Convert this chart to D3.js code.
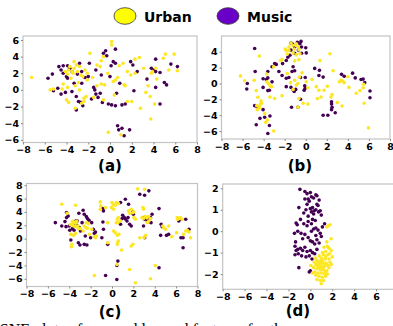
<!DOCTYPE html>
<html>
<head>
<meta charset="utf-8">
<script src="https://cdn.jsdelivr.net/npm/d3@7"></script>
<style>
  body { margin: 0; background: #fff; overflow: hidden; }
  svg { display: block; }
  .tick text { font-family: "DejaVu Sans", sans-serif; font-weight: bold; font-size: 9.5px; fill: #000; }
</style>
</head>
<body>
<svg id="chart" width="393" height="326"></svg>
<script>
// legend
const classes = ["Urban", "Music"];
const legendColors = ["#ffff00", "#6a00c8"];
const pointColors = { Urban: "#fde725", Music: "#440154" };

// (a)
const aUrban = [[-7.2,1.5],[-5.5,0.0],[-5.2,0.1],[-4.3,0.7],[-4.4,0.1],[-3.9,0.3],[-4.0,-1.2],[-3.8,-1.5],[-3.3,3.4],[-4.1,2.2],[-3.8,2.4],[-3.7,2.8],[-3.5,2.2],[-3.4,2.0],[-3.3,2.6],[-3.1,3.0],[-3.0,2.2],[-2.8,2.8],[-2.7,1.8],[-2.5,1.6],[-2.3,2.4],[-2.1,2.0],[-2.1,1.2],[-3.6,1.4],[-3.9,1.9],[-2.9,0.9],[-3.2,0.5],[-2.4,-1.0],[-2.6,-1.6],[-2.4,-1.4],[-2.2,-0.8],[-3.2,-2.2],[-2.8,0.0],[-1.85,4.4],[-1.2,3.0],[-0.9,2.8],[-0.8,3.5],[-0.6,4.0],[0.15,5.8],[0.15,5.4],[0.3,1.0],[0.5,1.2],[0.7,1.5],[0.85,2.9],[1.6,2.2],[1.9,1.8],[1.3,0.6],[1.4,0.5],[2.0,-1.4],[1.6,-1.4],[2.3,3.7],[2.7,3.9],[3.1,2.6],[3.3,-0.3],[3.5,0.5],[2.8,-2.2],[3.75,-3.5],[3.9,2.2],[3.8,2.0],[4.3,1.3],[4.1,-1.7],[4.9,3.8],[5.1,4.3],[5.4,2.4],[5.9,4.3],[6.2,2.3],[-0.15,-5.1],[1.0,-5.4],[-0.6,-1.2],[-1.2,0.5],[-0.5,0.6],[-0.8,0.7],[-1.6,1.5],[-0.2,2.0],[2.3,2.0],[-1.5,-0.9],[0.4,-0.6],[3.7,-0.8],[4.2,2.6],[1.2,3.2]];
const aMusic = [[-5.7,1.4],[-5.3,1.9],[-5.2,-0.1],[-4.8,0.2],[-4.7,2.8],[-4.5,2.4],[-4.3,2.9],[-4.0,1.6],[-3.9,1.4],[-4.5,-0.5],[-3.9,2.9],[-3.7,2.6],[-3.5,2.2],[-3.1,-0.8],[-2.9,-1.4],[-2.7,-1.5],[-3.1,-2.4],[-2.5,-1.9],[-2.8,3.2],[-2.0,1.6],[-1.9,3.2],[-1.5,0.3],[-1.4,0.0],[-1.7,-1.1],[-0.9,-0.4],[-0.4,4.7],[-0.6,4.4],[-0.3,4.1],[0.5,4.9],[0.3,3.4],[0.5,3.2],[-0.15,-1.7],[0.15,-1.8],[0.5,-1.9],[0.0,1.6],[-0.8,1.8],[0.9,0.8],[0.6,-0.4],[1.1,-1.8],[1.4,-1.7],[0.8,-4.8],[1.1,-4.6],[0.7,-4.3],[1.3,-5.5],[1.8,-4.8],[1.9,3.4],[2.1,3.0],[2.2,-0.1],[2.5,2.2],[3.8,2.6],[4.0,2.4],[4.2,2.2],[4.2,3.7],[4.6,2.1],[5.0,0.9],[5.2,0.6],[4.2,0.3],[4.6,-1.7],[5.6,3.1],[6.2,2.8],[3.4,1.3],[-3.3,0.8],[-2.6,0.8],[-3.5,-0.2],[-2.3,1.5],[-1.3,-0.5],[-3.0,1.9],[-2.6,2.2],[-1.1,-0.9],[-0.7,-1.5],[-1.3,2.4],[0.1,2.9],[-4.1,-0.3],[-4.3,2.0]];

// (b)
const bUrban = [[-6.2,0.95],[-5.8,0.35],[-4.9,0.4],[-4.4,3.45],[-4.7,-0.9],[-4.55,-1.75],[-4.65,-2.8],[-4.45,-2.9],[-4.3,-2.6],[-4.2,-2.5],[-4.4,-3.1],[-4.6,-3.3],[-4.25,-2.2],[-3.9,-3.8],[-3.8,-4.9],[-3.65,-4.6],[-3.05,-6.0],[-3.4,-0.3],[-3.25,-0.4],[-3.4,-1.7],[-2.95,-1.9],[-2.25,-1.55],[-3.7,0.2],[-3.55,0.0],[-3.7,1.2],[-3.05,2.1],[-2.4,2.9],[-2.25,3.0],[-1.95,4.35],[-1.85,4.15],[-1.6,4.6],[-1.4,5.1],[-1.25,4.8],[-1.1,4.35],[-0.95,4.8],[-0.9,5.0],[-0.7,4.6],[-0.65,4.25],[-0.55,3.75],[-0.9,3.6],[-1.2,3.85],[-1.6,4.15],[-1.75,3.7],[-1.05,2.85],[-0.65,3.0],[-1.75,1.25],[-1.45,0.1],[-1.2,-0.75],[-1.05,0.4],[-0.9,-0.2],[-0.75,0.0],[-0.6,0.8],[-0.35,1.35],[0.05,0.2],[0.2,-0.55],[-0.25,-2.5],[-0.65,-1.9],[-0.75,-3.0],[0.2,-2.6],[0.6,0.5],[1.35,2.9],[1.0,-0.4],[1.25,-0.85],[1.75,-0.85],[1.1,-1.9],[1.45,-1.7],[2.3,3.75],[2.4,-1.7],[2.5,-1.4],[2.6,1.6],[2.05,-0.35],[3.0,-2.4],[3.45,-2.85],[3.2,0.2],[3.35,0.4],[3.5,0.3],[3.65,0.1],[4.0,0.85],[4.1,-0.5],[4.8,-1.25],[5.15,-0.9],[5.45,-0.55],[5.5,-0.1],[5.55,-2.5],[5.95,-5.6]];
const bMusic = [[-4.85,4.4],[-4.8,1.5],[-5.55,0.0],[-5.6,-0.7],[-4.05,0.6],[-3.75,0.5],[-3.6,0.7],[-3.6,1.5],[-3.2,0.2],[-4.05,-0.5],[-3.6,-0.9],[-3.45,-0.85],[-2.95,2.5],[-2.8,2.4],[-3.2,2.1],[-2.55,1.5],[-2.25,1.0],[-4.85,-2.8],[-4.6,-3.0],[-4.05,-3.3],[-4.35,-4.4],[-3.9,-4.25],[-3.4,-4.1],[-4.7,-5.2],[-3.45,-5.3],[-3.6,-6.3],[-2.2,2.5],[-1.85,2.9],[-1.7,3.3],[-1.4,5.1],[-1.25,4.95],[-1.05,4.6],[-0.8,5.2],[-0.55,5.0],[-0.45,5.3],[-0.4,4.6],[-0.7,4.2],[-1.4,4.2],[-1.05,3.8],[-1.5,3.55],[-0.4,3.8],[0.0,4.5],[0.05,3.85],[-1.2,2.1],[-1.3,1.5],[-1.05,1.6],[-1.85,0.65],[-1.6,0.75],[-1.4,-0.5],[-1.2,-0.8],[-1.1,-1.0],[-1.85,-0.4],[-0.95,-0.75],[-1.35,-3.0],[-0.75,-3.0],[-0.5,-2.0],[-0.1,-0.3],[-0.05,-0.6],[-0.15,-0.85],[-0.5,0.75],[-0.05,0.75],[0.85,1.9],[1.3,1.65],[1.25,1.0],[1.65,0.8],[1.65,-4.0],[2.1,-4.0],[2.45,-2.3],[2.45,-2.6],[2.5,-3.0],[2.45,-3.3],[2.8,-3.7],[3.4,1.15],[3.65,0.9],[4.45,1.3],[4.7,0.7],[5.25,0.5],[5.45,0.55],[5.6,0.1],[6.1,-0.95],[6.1,-1.8]];

// (c)
const cUrban = [[-4.7,5.15],[-3.4,5.0],[-4.2,3.8],[-3.7,2.6],[-3.5,2.5],[-3.4,2.3],[-3.7,2.2],[-3.3,2.6],[-3.6,1.9],[-3.4,1.8],[-3.9,2.1],[-3.2,1.9],[-3.15,1.5],[-3.85,0.65],[-3.6,0.5],[-3.4,0.8],[-3.8,-1.2],[-3.75,-0.85],[-2.95,1.5],[-2.7,1.15],[-2.6,1.9],[-2.45,1.65],[-2.3,1.55],[-2.4,2.4],[-2.2,2.25],[-2.1,0.65],[-1.9,1.4],[-1.65,0.3],[-1.45,0.4],[-1.55,0.15],[-1.65,-5.5],[-1.1,5.5],[-1.05,4.9],[-1.1,4.4],[-0.6,4.65],[-0.4,2.4],[0.0,5.4],[0.1,5.1],[0.3,5.0],[0.4,5.4],[-0.05,4.65],[0.15,4.4],[0.6,5.25],[0.5,2.9],[0.6,3.15],[0.8,2.65],[0.4,2.4],[0.55,2.4],[0.15,1.15],[0.3,0.9],[0.5,0.5],[0.65,0.65],[0.6,-0.35],[0.55,-0.5],[0.5,-0.85],[0.45,-3.85],[0.9,-1.7],[-0.4,-0.6],[1.65,-4.6],[2.2,-6.6],[1.8,-1.1],[1.95,-0.85],[1.55,4.15],[1.8,4.4],[2.05,4.0],[1.95,3.9],[1.65,3.8],[2.05,3.15],[2.2,2.9],[2.4,7.45],[3.05,7.4],[2.9,4.65],[2.95,4.4],[2.8,3.15],[2.95,3.0],[3.1,3.3],[3.25,3.15],[3.4,3.3],[3.6,3.0],[3.45,2.65],[3.3,2.4],[2.6,0.15],[4.05,-4.0],[3.6,-6.0],[4.75,1.9],[4.85,1.65],[5.3,1.9],[5.0,1.4],[5.6,0.3],[6.1,3.15],[6.25,3.0],[6.4,3.15],[6.15,2.9],[6.55,2.9],[6.7,0.65],[6.9,1.15],[7.05,1.25],[7.2,1.0],[7.35,0.15],[6.05,0.9],[3.0,0.15],[3.15,0.5]];
const cMusic = [[-5.3,2.4],[-4.7,1.9],[-4.4,2.55],[-4.25,3.9],[-4.25,3.15],[-4.1,3.4],[-4.3,1.8],[-4.0,1.9],[-3.95,1.25],[-3.85,-0.2],[-3.7,1.5],[-3.55,1.25],[-3.4,2.65],[-3.3,2.0],[-3.6,2.0],[-3.5,2.0],[-3.25,2.65],[-3.1,3.8],[-3.05,1.65],[-2.95,1.15],[-2.8,2.4],[-2.7,4.25],[-2.6,3.65],[-2.4,3.3],[-2.3,3.0],[-2.15,2.75],[-2.5,0.4],[-2.6,-0.85],[-3.0,-0.95],[-3.15,-0.6],[-2.35,-0.95],[-2.0,0.15],[-1.65,0.8],[-1.55,1.0],[-1.9,2.4],[-1.75,1.4],[-0.85,4.5],[-0.8,4.15],[-0.85,2.5],[-0.8,1.4],[-0.95,0.15],[-0.4,-0.85],[1.25,5.9],[0.8,5.4],[1.0,3.5],[0.95,3.0],[1.15,3.15],[0.55,-3.35],[0.45,-4.0],[-0.6,-5.5],[0.45,-6.1],[1.55,5.15],[1.95,4.0],[2.0,3.65],[1.65,2.15],[1.8,1.9],[1.25,2.95],[1.4,2.65],[1.5,3.15],[2.6,6.65],[3.05,6.5],[3.45,7.15],[2.9,3.15],[3.05,2.9],[3.3,2.65],[3.5,3.0],[3.65,2.4],[2.95,1.9],[3.05,0.15],[3.75,3.65],[3.6,3.15],[4.4,4.5],[4.6,2.15],[4.7,1.8],[4.4,-4.35],[4.55,0.5],[5.1,0.5],[6.45,0.15],[6.65,0.15],[6.65,-1.35],[6.9,2.9],[7.2,1.4],[6.4,2.9],[6.25,2.65],[5.3,0.65],[0.8,2.15]];

// (d)
const dUrban = [[1.5,0.2],[1.65,0.25],[1.8,0.3],[1.9,-0.35],[1.55,-0.7],[1.7,-0.8],[1.4,-0.95],[1.9,-0.9],[1.6,-1.1],[1.2,-1.1],[0.8,-1.15],[1.0,-1.25],[1.35,-1.3],[1.7,-1.3],[2.0,-1.2],[0.6,-1.35],[0.9,-1.4],[1.15,-1.45],[1.45,-1.5],[1.8,-1.45],[0.5,-1.55],[0.75,-1.6],[1.0,-1.65],[1.3,-1.65],[1.6,-1.6],[1.9,-1.55],[0.05,-1.6],[0.3,-1.7],[0.6,-1.75],[0.9,-1.8],[1.2,-1.8],[1.5,-1.85],[0.4,-1.9],[0.7,-1.95],[1.0,-1.95],[1.3,-2.0],[0.2,-1.95],[0.5,-2.05],[0.8,-2.1],[1.1,-2.15],[1.4,-2.1],[0.9,-2.3],[1.0,-2.45],[1.2,-2.3],[0.6,-2.25],[1.1,-1.0],[1.25,-0.75],[1.5,-0.5],[0.95,-1.5],[1.1,-1.7],[0.7,-1.45],[1.4,-1.2],[1.75,-1.05],[0.45,-1.25],[1.55,-2.0],[0.85,-1.7],[1.25,-1.55],[1.05,-1.35],[0.65,-1.6],[1.35,-1.9],[1.7,-1.7],[0.35,-1.45]];
const dMusic = [[-0.95,1.95],[-0.5,1.85],[-0.3,1.75],[0.0,1.8],[0.1,1.6],[-0.2,1.5],[-0.1,1.4],[0.3,1.55],[0.5,1.7],[0.6,1.65],[0.8,1.45],[-0.5,1.5],[-1.05,1.1],[-0.3,1.25],[0.0,1.05],[0.2,1.1],[0.35,0.95],[0.5,1.0],[0.6,1.25],[0.75,0.9],[0.9,0.95],[1.0,0.75],[0.3,0.8],[0.1,0.9],[-0.6,0.85],[-0.2,0.7],[0.45,0.5],[0.2,0.55],[-1.3,0.38],[-1.2,0.3],[-1.15,0.0],[-0.85,-0.1],[-0.6,0.35],[-0.3,0.25],[0.1,0.35],[0.3,0.1],[0.5,0.15],[0.7,0.05],[0.9,-0.1],[1.1,0.2],[1.3,0.35],[-0.5,-0.15],[-0.2,-0.3],[0.0,-0.45],[0.2,-0.5],[0.4,-0.6],[0.6,-0.4],[0.8,-0.55],[1.0,-0.25],[-1.35,-0.5],[-1.4,-0.7],[-1.3,-0.9],[-1.15,-0.85],[-0.9,-0.8],[-0.7,-0.9],[-0.5,-0.75],[-0.3,-0.95],[0.0,-0.9],[0.2,-1.0],[0.4,-1.05],[0.6,-0.85],[-1.4,-1.1],[-1.1,-1.05],[-0.8,-1.15],[-0.4,-1.2],[-0.1,-1.15],[0.15,-1.3],[-1.05,-1.7],[-0.1,-1.9],[0.0,-1.85],[0.1,0.0],[-0.9,0.55],[-0.7,-0.35],[0.5,-0.2],[-1.45,-0.1],[-0.4,1.0],[0.7,1.2],[-0.2,0.45]];

const xTicks = [-8, -6, -4, -2, 0, 2, 4, 6, 8];
const xTicksD = [-8, -6, -4, -2, 0, 2, 4, 6];   // the "8" of (d) falls off the page

const svg = d3.select("#chart");
const fmt = d => d < 0 ? "\u2212" + Math.abs(d) : String(d);

// panel boxes in page pixels
const panels = [
  { label: "(a)", box: [23, 197, 36, 142.5], ylim: [-6.32, 6.48], xTicks: xTicks, yTicks: [-6, -4, -2, 0, 2, 4, 6], urban: aUrban, music: aMusic, title: [110, 171] },
  { label: "(b)", box: [221.5, 390, 36, 139], ylim: [-7.0, 5.98], xTicks: xTicks, yTicks: [-6, -4, -2, 0, 2, 4], urban: bUrban, music: bMusic, title: [300, 171] },
  { label: "(c)", box: [26.5, 197.5, 183.5, 286.5], ylim: [-7.15, 8.25], xTicks: xTicks, yTicks: [-6, -4, -2, 0, 2, 4, 6, 8], urban: cUrban, music: cMusic, title: [110, 317] },
  { label: "(d)", box: [222.7, 398, 184, 289.3], ylim: [-2.71, 2.2], xTicks: xTicksD, yTicks: [-2, -1, 0, 1, 2], urban: dUrban, music: dMusic, title: [298, 316] }
];

panels.forEach(p => {
  const [x0, x1, y0, y1] = p.box;
  const x = d3.scaleLinear().domain([-8, 8]).range([x0, x1]);
  const y = d3.scaleLinear().domain(p.ylim).range([y1, y0]);
  const g = svg.append("g");

  // points
  const pts = g.append("g");
  [["Music", p.music], ["Urban", p.urban]].forEach(([name, data]) => {
    pts.selectAll(null)
      .data(data)
      .enter()
      .append("circle")
      .attr("cx", d => x(d[0]))
      .attr("cy", d => y(d[1]))
      .attr("r", 1.8)
      .attr("fill", pointColors[name]);
  });

  // frame
  g.append("rect")
    .attr("x", x0).attr("y", y0)
    .attr("width", x1 - x0).attr("height", y1 - y0)
    .attr("fill", "none")
    .attr("stroke", "#c4c4c4")
    .attr("stroke-width", 1.2);

  const xAxis = g.append("g")
    .attr("transform", "translate(0," + y1 + ")")
    .call(d3.axisBottom(x).tickValues(p.xTicks).tickFormat(fmt).tickSize(2).tickPadding(2));
  const yAxis = g.append("g")
    .attr("transform", "translate(" + x0 + ",0)")
    .call(d3.axisLeft(y).tickValues(p.yTicks).tickFormat(fmt).tickSize(2).tickPadding(2));
  [xAxis, yAxis].forEach(a => {
    a.select(".domain").remove();
    a.selectAll(".tick line").attr("stroke", "#888");
  });

  g.append("text")
    .attr("x", p.title[0]).attr("y", p.title[1])
    .attr("text-anchor", "middle")
    .style("font-family", "DejaVu Sans, sans-serif")
    .style("font-weight", "bold")
    .style("font-size", "15px")
    .text(p.label);
});

// legend
const legendX = [125, 228];
classes.forEach((c, i) => {
  svg.append("ellipse")
    .attr("cx", legendX[i]).attr("cy", 16)
    .attr("rx", 11).attr("ry", 8.3)
    .attr("fill", legendColors[i])
    .attr("stroke", "#333")
    .attr("stroke-width", 0.8);
  svg.append("text")
    .attr("x", legendX[i] + 19).attr("y", 21.5)
    .style("font-family", "DejaVu Sans, sans-serif")
    .style("font-weight", "bold")
    .style("font-size", "14px")
    .text(c);
});

// caption, cut by the bottom edge as in the reference
svg.append("text")
  .attr("x", -10).attr("y", 335)
  .style("font-family", "Liberation Serif, serif")
  .style("font-size", "16px")
  .text("t-SNE plots of raw and learned features for the");
</script>
</body>
</html>
